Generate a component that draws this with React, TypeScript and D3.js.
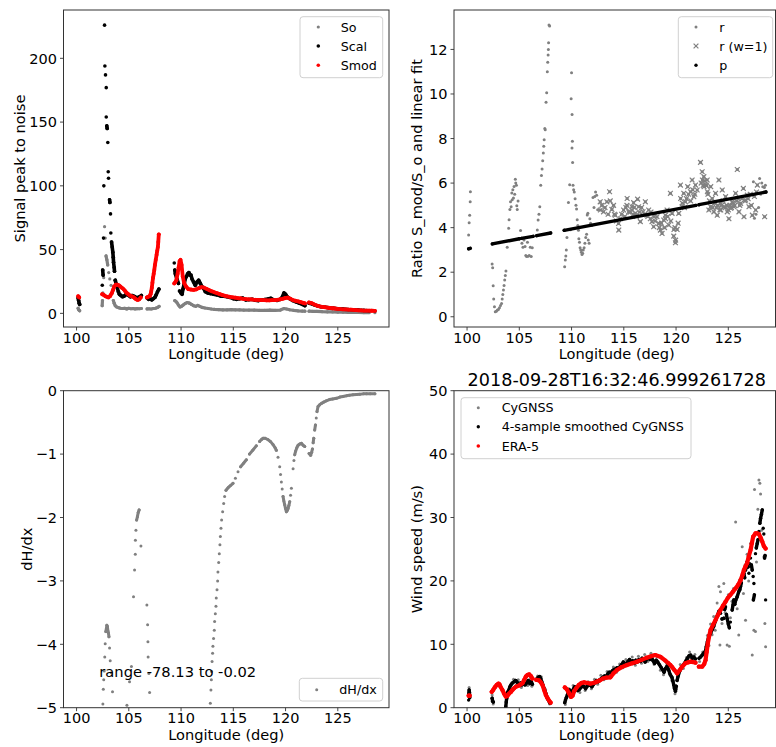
import React from 'react';
import * as d3 from 'd3';

type P = [number, number];

const lonTicks = [100, 105, 110, 115, 120, 125];
const snrTicks = [0, 50, 100, 150, 200];
const ratioTicks = [0, 2, 4, 6, 8, 10, 12];
const dhdxTicks = [0, -1, -2, -3, -4, -5];
const windTicks = [0, 10, 20, 30, 40, 50];
const titleText = '2018-09-28T16:32:46.999261728';
const rangeText = 'range -78.13 to -0.02';

// ---------- Panel 1: signal peak to noise ----------
const soSegs: P[][] = [
  [[100.15, 4], [100.2, 3], [100.25, 2.5], [100.3, 2]],
  [[102.45, 6], [102.48, 10], [102.52, 16], [102.6, 28], [102.68, 68], [102.75, 59], [102.82, 45], [102.9, 42], [102.98, 38], [103.08, 32], [103.18, 27], [103.3, 22], [103.42, 16], [103.52, 10], [103.6, 8], [103.7, 6], [103.85, 5], [104.0, 4.5], [104.2, 4], [104.4, 3.8], [104.6, 4], [104.8, 3.5], [105.0, 4], [105.2, 3.6], [105.4, 3.8], [105.6, 3.5], [105.8, 3.7], [106.0, 3.6], [106.2, 3.8]],
  [[106.75, 3.5], [106.95, 3.6], [107.15, 3.4], [107.35, 3.8], [107.55, 4], [107.75, 4.6], [107.9, 5.5]],
  [[109.4, 10], [109.5, 9.5], [109.6, 8.5], [109.75, 6.5], [109.9, 5], [110.05, 5.5], [110.2, 6.5], [110.4, 7.8], [110.6, 8.5], [110.8, 8], [111.0, 7], [111.2, 6], [111.4, 5.5], [111.6, 6.3], [111.8, 5.5], [112.0, 4.7], [112.3, 4.2], [112.6, 3.8], [112.9, 3.4], [113.2, 3.1], [113.6, 2.9], [114.0, 2.7], [114.4, 2.8], [114.8, 3.0], [115.2, 2.8], [115.6, 2.7], [116.0, 2.6], [116.5, 2.6], [117.0, 2.5], [117.5, 2.4], [118.0, 2.4], [118.5, 2.5], [119.0, 2.4], [119.5, 2.6], [119.85, 3.8], [120.1, 3.4], [120.4, 2.8], [120.8, 2.3], [121.2, 2], [121.6, 1.8], [121.85, 1.7]],
  [[122.25, 1.7], [122.6, 1.6], [123.0, 1.5], [123.5, 1.3], [124.0, 1.2], [124.5, 1.1], [125.0, 1.0], [125.5, 0.9], [126.0, 0.8], [126.5, 0.8], [127.0, 0.7], [127.5, 0.6], [128.0, 0.6], [128.55, 0.5]],
];

const scalSegs: P[][] = [
  [[100.15, 12], [100.2, 10], [100.25, 8], [100.3, 7]],
  [[102.46, 22], [102.5, 34], [102.54, 30], [102.58, 59], [102.61, 100], [102.68, 226], [102.71, 194], [102.77, 187], [102.84, 177], [102.84, 154], [102.89, 147], [102.93, 145], [102.99, 134], [103.03, 111], [103.06, 106], [103.16, 89], [103.19, 87], [103.25, 78], [103.28, 63], [103.35, 56], [103.41, 52], [103.47, 48], [103.51, 44], [103.54, 40], [103.6, 36], [103.63, 33], [103.7, 26], [103.8, 23], [103.9, 20], [104.0, 17], [104.1, 15], [104.25, 14], [104.4, 13], [104.55, 13.5], [104.7, 14.5], [104.85, 15], [105.0, 14], [105.15, 13], [105.3, 14], [105.45, 13.5], [105.6, 13], [105.75, 12], [105.9, 12.5], [106.05, 13], [106.2, 14]],
  [[106.75, 12], [106.9, 11], [107.05, 11.5], [107.2, 10.5], [107.35, 11.5], [107.5, 12.5], [107.62, 14.5], [107.75, 17], [107.88, 19]],
  [[109.35, 39.5], [109.4, 34], [109.45, 31], [109.6, 27], [109.75, 23.5], [109.86, 17.5], [109.99, 16], [110.1, 15], [110.18, 19], [110.3, 23], [110.4, 27], [110.52, 29], [110.63, 31], [110.75, 32], [110.85, 30], [110.95, 30], [111.05, 27], [111.2, 24.5], [111.36, 22], [111.52, 24.5], [111.68, 26], [111.84, 23.5], [112.0, 21], [112.16, 19.5], [112.32, 17], [112.55, 16], [112.8, 15.5], [113.1, 15], [113.44, 14.5], [113.8, 13.5], [114.1, 13.5], [114.4, 13], [114.7, 12.5], [115.0, 11.5], [115.3, 11], [115.6, 11.5], [115.9, 12], [116.2, 10.5], [116.5, 10.8], [116.8, 11], [117.1, 10.3], [117.4, 10], [117.7, 10.5], [118.0, 10.8], [118.3, 11.2], [118.6, 11.8], [118.9, 10.5], [119.2, 10.2], [119.5, 11], [119.7, 13], [119.85, 16], [120.0, 15], [120.15, 13], [120.4, 11.5], [120.7, 10], [121.0, 9], [121.3, 8], [121.6, 7], [121.85, 6]],
  [[122.25, 8], [122.5, 7.5], [122.8, 6.5], [123.1, 5.8], [123.4, 5.2], [123.8, 4.8], [124.2, 4.3], [124.6, 4], [125.0, 3.6], [125.5, 3.3], [126.0, 3], [126.5, 2.8], [127.0, 2.5], [127.5, 2.3], [128.0, 2.1], [128.55, 1.9]],
];

const smodSegs: P[][] = [
  [[100.15, 13.5], [100.2, 13], [100.25, 12.5]],
  [[102.45, 15], [102.6, 14.5], [102.75, 13.5], [102.9, 13], [103.05, 12.5], [103.2, 13.5], [103.35, 15.5], [103.5, 18.5], [103.6, 21], [103.75, 22.5], [103.9, 22.5], [104.05, 22], [104.2, 21], [104.35, 20], [104.5, 19], [104.65, 17.5], [104.8, 16], [104.95, 15], [105.1, 14], [105.25, 13.5], [105.4, 13], [105.55, 12], [105.7, 11], [105.85, 10.5], [106.0, 11], [106.15, 12.5]],
  [[106.73, 12.5], [106.85, 13], [107.0, 13.5], [107.08, 15], [107.14, 17], [107.2, 20], [107.26, 24], [107.32, 28], [107.38, 31], [107.44, 34], [107.5, 38], [107.58, 42], [107.66, 46], [107.72, 49], [107.78, 52], [107.82, 56], [107.87, 62]],
  [[109.35, 23.5], [109.45, 24.5], [109.55, 26], [109.67, 31], [109.77, 36], [109.86, 41], [109.95, 42], [110.05, 38], [110.16, 29], [110.29, 24], [110.48, 21], [110.7, 19], [110.95, 18.7], [111.2, 18.4], [111.45, 18.8], [111.7, 19.8], [111.95, 20.5], [112.2, 20.2], [112.45, 19.2], [112.7, 18.2], [112.95, 17.3], [113.2, 16.5], [113.45, 15.8], [113.7, 15.1], [113.95, 14.4], [114.2, 13.8], [114.45, 13.3], [114.7, 12.9], [114.95, 12.6], [115.2, 12.3], [115.45, 12.0], [115.7, 11.7], [115.95, 11.4], [116.2, 11.2], [116.45, 11.0], [116.7, 10.9], [116.95, 10.7], [117.2, 10.6], [117.45, 10.5], [117.7, 10.4], [117.95, 10.3], [118.2, 10.2], [118.45, 10.2], [118.7, 10.3], [118.95, 10.4], [119.2, 10.6], [119.45, 10.9], [119.7, 11.4], [119.95, 12.0], [120.2, 12.4], [120.45, 11.5], [120.7, 10.4], [120.95, 9.9], [121.2, 9.4], [121.45, 8.8], [121.7, 8.2], [121.85, 7.8]],
  [[122.25, 8.5], [122.5, 8.0], [122.75, 7.0], [123.0, 6.1], [123.25, 5.5], [123.5, 5.1], [123.75, 4.8], [124.0, 4.5], [124.25, 4.2], [124.5, 4.0], [124.75, 3.8], [125.0, 3.5], [125.25, 3.3], [125.5, 3.2], [125.75, 3.1], [126.0, 3.0], [126.25, 2.85], [126.5, 2.7], [126.75, 2.55], [127.0, 2.4], [127.25, 2.3], [127.5, 2.2], [127.75, 2.15], [128.0, 2.1], [128.25, 2.05], [128.55, 2.0]],
];

// ---------- Panel 2: ratio and linear fit ----------
const rOnly: P[] = [
  [100.15, 3.67], [100.2, 4.22], [100.25, 4.56], [100.3, 5.16], [100.32, 5.61],
  [102.4, 2.37], [102.45, 2.2], [102.5, 1.39], [102.55, 0.8], [102.62, 0.45], [102.7, 0.23], [102.8, 0.25], [102.9, 0.3], [103.0, 0.33], [103.1, 0.4], [103.2, 0.5], [103.3, 0.6], [103.36, 0.8], [103.42, 1.0], [103.48, 1.2], [103.54, 1.4], [103.6, 1.65], [103.66, 1.85], [103.72, 2.05],
  [103.84, 3.12], [103.98, 3.97], [104.02, 4.35], [104.1, 4.82], [104.16, 5.16], [104.22, 4.94], [104.28, 5.55], [104.32, 5.25], [104.38, 5.7], [104.44, 5.33], [104.5, 5.85], [104.56, 5.5], [104.62, 6.17], [104.66, 6.0], [104.72, 5.9], [104.76, 4.98], [104.8, 4.82], [104.88, 5.2],
  [105.12, 3.87], [105.25, 3.3], [105.35, 3.12], [105.45, 3.45], [105.55, 3.15], [105.62, 2.75], [105.7, 2.7], [105.78, 3.35], [105.85, 2.72], [105.95, 2.75], [106.05, 3.12], [106.14, 2.7], [106.24, 3.1],
  [106.72, 3.89], [106.8, 4.34], [106.88, 4.6], [106.96, 4.94], [107.05, 5.9], [107.12, 6.34], [107.18, 6.63], [107.24, 7.0], [107.3, 7.35], [107.34, 7.65], [107.38, 7.95], [107.44, 8.45], [107.48, 8.4], [107.56, 9.63], [107.62, 10.05], [107.68, 11.0], [107.72, 11.42], [107.76, 11.75], [107.78, 12.0], [107.8, 12.3], [107.84, 13.1], [107.9, 13.05],
  [109.34, 2.25], [109.4, 2.55], [109.45, 2.73], [109.5, 3.0], [109.56, 3.56], [109.7, 5.13], [109.82, 5.93], [109.9, 3.9], [109.96, 9.79], [110.0, 10.95], [110.05, 9.08], [110.04, 7.58], [110.08, 7.88], [110.1, 6.92], [110.14, 5.9], [110.2, 5.7], [110.26, 5.6], [110.34, 5.3], [110.42, 5.0], [110.48, 4.84], [110.54, 4.35], [110.6, 4.1], [110.66, 3.88], [110.7, 3.5], [110.76, 3.35], [110.82, 3.1], [110.88, 3.0], [110.94, 2.9], [111.0, 2.8], [111.06, 2.85], [111.12, 3.0], [111.2, 3.1], [111.28, 3.3], [111.36, 3.56], [111.44, 3.7], [111.5, 4.57], [111.56, 4.65], [111.6, 3.45], [111.68, 3.3], [111.75, 4.4], [111.82, 4.2], [111.95, 4.1], [112.05, 5.35], [112.15, 4.9], [112.22, 5.4], [112.3, 5.6], [112.4, 5.45], [112.5, 4.8],
  [127.4, 6.06], [127.5, 4.42], [127.65, 4.6], [127.9, 4.9], [128.0, 6.21], [128.1, 5.5], [128.2, 6.0], [128.3, 5.84], [128.45, 5.8], [128.55, 5.9],
];

const rW1: P[] = [
  [112.74, 5.16], [112.76, 4.79], [112.9, 5.0], [113.06, 4.71], [113.2, 4.9], [113.38, 5.16], [113.5, 4.6], [113.64, 5.61], [113.7, 5.2], [113.86, 4.82], [114.02, 5.0], [114.1, 4.6], [114.18, 4.56], [114.3, 4.3], [114.5, 4.19], [114.52, 3.89], [114.66, 4.4], [114.8, 4.6], [114.98, 4.79], [115.1, 4.5], [115.2, 4.9], [115.3, 5.0], [115.32, 5.31], [115.46, 4.71], [115.6, 4.7], [115.78, 4.94], [115.8, 4.79], [115.9, 4.6], [115.94, 5.12], [116.0, 4.9], [116.1, 4.64], [116.2, 4.5], [116.32, 5.28], [116.42, 4.94], [116.5, 4.7], [116.58, 4.27], [116.7, 4.9], [116.84, 4.71], [117.0, 4.6], [117.06, 5.16], [117.22, 4.56], [117.3, 4.5], [117.38, 4.79], [117.54, 4.4], [117.6, 4.7], [117.7, 4.27], [117.86, 4.04], [117.9, 4.5], [118.0, 4.3], [118.18, 4.49], [118.34, 4.19], [118.4, 4.0], [118.5, 3.89], [118.6, 4.2], [118.66, 3.74], [118.82, 4.34], [118.9, 4.0], [118.98, 4.56], [119.0, 4.4], [119.14, 4.79], [119.2, 4.5], [119.3, 4.12], [119.46, 5.54], [119.5, 4.3], [119.62, 4.64], [119.78, 3.62], [119.8, 3.92], [119.9, 4.0], [119.94, 3.32], [119.96, 3.44], [120.1, 3.92], [120.2, 4.2], [120.26, 4.64], [120.42, 5.91], [120.44, 5.31], [120.58, 4.94], [120.6, 5.1], [120.74, 5.54], [120.8, 4.9], [120.9, 5.16], [121.0, 5.3], [121.12, 5.84], [121.2, 5.5], [121.38, 5.61], [121.4, 5.2], [121.54, 6.14], [121.6, 5.7], [121.7, 5.39], [121.8, 5.5], [121.86, 5.91], [122.02, 5.69],
  [122.34, 6.93], [122.4, 6.0], [122.5, 6.51], [122.52, 6.14], [122.6, 5.9], [122.66, 6.29], [122.68, 5.84], [122.75, 6.1], [122.82, 5.91], [122.9, 5.9], [122.98, 6.14], [123.0, 5.61], [123.05, 5.5], [123.14, 4.79], [123.2, 5.2], [123.3, 4.94], [123.32, 5.84], [123.46, 5.31], [123.5, 4.9], [123.62, 4.71], [123.7, 5.1], [123.78, 5.54], [123.85, 4.9], [123.94, 4.56], [124.0, 5.0], [124.1, 6.14], [124.2, 4.8], [124.26, 5.09], [124.28, 4.79], [124.35, 5.0], [124.42, 5.69], [124.5, 5.2], [124.58, 4.94], [124.7, 4.9], [124.74, 5.39], [124.85, 5.0], [124.9, 4.71], [125.0, 4.8], [125.06, 4.4], [125.15, 5.0], [125.22, 4.87], [125.3, 4.9], [125.38, 5.16], [125.45, 5.1], [125.54, 4.94], [125.6, 5.0], [125.7, 5.54], [125.8, 5.2], [125.86, 6.61], [125.95, 5.3], [126.02, 4.71], [126.1, 5.0], [126.18, 5.09], [126.3, 5.3], [126.44, 5.76], [126.5, 4.49], [126.6, 5.2], [126.66, 5.24], [126.82, 5.46], [126.9, 5.3], [126.98, 4.94], [127.1, 5.5], [127.2, 5.0], [127.3, 4.56], [127.5, 5.4], [127.62, 4.79], [127.7, 5.6], [127.78, 5.91], [128.48, 4.49],
];

const pSegs: P[][] = [
  [[100.15, 3.05], [100.3, 3.07]],
  [[102.42, 3.27], [105.0, 3.5]],
  [[105.2, 3.52], [106.32, 3.61]],
  [[106.66, 3.64], [108.0, 3.76]],
  [[109.3, 3.88], [121.9, 5.0]],
  [[122.2, 5.03], [128.6, 5.6]],
];

// ---------- Panel 3: dH/dx ----------
const dhdxSegs: P[][] = [
  [[102.52, -4.94], [102.56, -4.71], [102.6, -4.56], [102.65, -4.42], [102.7, -4.2], [102.74, -3.99], [102.8, -3.8], [102.85, -3.76], [102.9, -3.7], [102.95, -3.72], [103.0, -3.79], [103.05, -3.82], [103.1, -3.88], [103.16, -4.06], [103.22, -4.26], [103.32, -4.45], [103.44, -4.75]],
  [[104.82, -4.96], [105.07, -4.59], [105.25, -4.35], [105.45, -3.25], [105.55, -2.83], [105.62, -2.58], [105.63, -2.36], [105.68, -2.2], [105.75, -2.04], [105.82, -1.99], [105.9, -1.92], [105.99, -1.88], [106.16, -2.45]],
  [[106.73, -3.38], [106.8, -3.69], [106.83, -3.96], [106.85, -4.2], [106.92, -4.46], [106.99, -4.76]],
  [[112.8, -4.93], [112.86, -4.72], [112.9, -4.56], [112.92, -4.43], [112.97, -4.27], [113.02, -4.14], [113.05, -4.03], [113.11, -3.91], [113.18, -3.78], [113.21, -3.64], [113.28, -3.52], [113.34, -3.4], [113.37, -3.27], [113.44, -3.14], [113.5, -3.0], [113.53, -2.86], [113.6, -2.71], [113.66, -2.57], [113.72, -2.43], [113.76, -2.3], [113.82, -2.17], [113.88, -2.04], [113.98, -1.91], [114.08, -1.78], [114.17, -1.67], [114.3, -1.57], [114.5, -1.53], [114.7, -1.5], [114.97, -1.46], [115.2, -1.38], [115.45, -1.28], [115.7, -1.2], [116.0, -1.14], [116.25, -1.09], [116.55, -1.0], [116.88, -0.935], [117.2, -0.87], [117.52, -0.8], [117.7, -0.77], [117.85, -0.75], [118.05, -0.75], [118.3, -0.77], [118.55, -0.8], [118.8, -0.85], [119.0, -0.9], [119.12, -0.94], [119.28, -1.05], [119.44, -1.2], [119.52, -1.32], [119.6, -1.44], [119.68, -1.55], [119.76, -1.67], [119.84, -1.74], [119.92, -1.8], [120.0, -1.86], [120.08, -1.91], [120.16, -1.89], [120.24, -1.86], [120.32, -1.81], [120.4, -1.75], [120.48, -1.65], [120.56, -1.54]],
  [[120.72, -1.23], [120.8, -1.1], [120.88, -1.01], [120.97, -0.95], [121.08, -0.9], [121.2, -0.86], [121.36, -0.84], [121.52, -0.83], [121.68, -0.86], [121.84, -0.88]],
  [[122.25, -0.99], [122.32, -1.0], [122.4, -1.02], [122.5, -0.97], [122.57, -0.92], [122.64, -0.82], [122.7, -0.75], [122.79, -0.62], [122.86, -0.54], [122.94, -0.43], [123.01, -0.33], [123.11, -0.25], [123.27, -0.22], [123.43, -0.2], [123.65, -0.18], [123.9, -0.16], [124.2, -0.14], [124.5, -0.13], [124.87, -0.12], [125.2, -0.1], [125.5, -0.09], [125.83, -0.08], [126.1, -0.07], [126.45, -0.065], [126.79, -0.06], [127.1, -0.055], [127.45, -0.05], [127.75, -0.05], [128.1, -0.05], [128.55, -0.05]],
];

// ---------- Panel 4: wind speed ----------
const cygnss: P[] = [
  [100.15, 2.5], [100.2, 3.2], [100.25, 1.5],
  [102.4, 2.0], [102.5, 0.6], [103.72, 0.3], [103.85, 1.5], [104.05, 3.0], [104.25, 3.9], [104.45, 4.5], [104.7, 3.6], [104.9, 4.4], [105.2, 3.2], [105.5, 4.4], [105.8, 3.5], [106.05, 4.5], [106.2, 3.4],
  [106.75, 5.0], [106.9, 4.4], [107.1, 4.9], [107.3, 3.3], [107.5, 2.9], [107.7, 1.4], [107.9, 0.6],
  [109.4, 0.5], [109.55, 1.6], [109.75, 3.0], [109.9, 1.9], [110.15, 3.5], [110.35, 2.6], [110.55, 3.4], [110.8, 2.4], [111.0, 3.8], [111.3, 2.7], [111.6, 4.1], [111.9, 3.0], [112.2, 4.5], [112.5, 3.7], [112.8, 5.1], [113.1, 4.4], [113.4, 5.7], [113.7, 5.0], [114.0, 6.4], [114.3, 5.6], [114.6, 6.9], [114.9, 6.3], [115.2, 7.6], [115.5, 6.8], [115.8, 8.0], [116.1, 6.7], [116.4, 8.1], [116.7, 7.0], [117.0, 8.4], [117.3, 7.3], [117.6, 8.6], [117.9, 6.8], [118.2, 8.0], [118.5, 5.9], [118.8, 5.2], [119.1, 7.0], [119.35, 5.4], [119.6, 4.3], [119.8, 3.1], [119.9, 2.2], [120.0, 2.9], [120.15, 4.8], [120.4, 6.8], [120.7, 6.2], [121.0, 7.9], [121.3, 8.8], [121.6, 7.4], [121.8, 8.4],
  [122.25, 7.3], [122.55, 8.8], [122.85, 9.6], [123.0, 11.4], [123.15, 9.8], [123.3, 13.2], [123.45, 11.5], [123.6, 14.4], [123.75, 12.2], [123.93, 16.5], [124.1, 19.1], [124.2, 9.9], [124.25, 18.3], [124.4, 13.3], [124.57, 19.6], [124.7, 15.0], [124.89, 9.89], [125.0, 17.8], [125.1, 9.7], [125.2, 14.2], [125.35, 16.8], [125.5, 18.8], [125.7, 29.3], [125.85, 15.6], [126.0, 11.45], [126.1, 20.2], [126.33, 25.4], [126.45, 18.0], [126.6, 22.5], [126.65, 13.8], [126.8, 24.2], [126.95, 20.0], [127.13, 25.9], [127.29, 8.3], [127.45, 12.2], [127.51, 34.4], [127.6, 12.0], [127.7, 23.0], [127.83, 31.3], [127.93, 35.9], [128.02, 35.4], [128.09, 33.7], [128.2, 28.0], [128.41, 23.8], [128.5, 13.3], [128.57, 9.6],
];

const smoothSegs: P[][] = [
  [[100.15, 1.2], [100.18, 2.2], [100.2, 2.8], [100.23, 2.4], [100.25, 1.6]],
  [[102.4, 1.5], [102.45, 1.0], [102.52, 0.9]],
  [[103.7, 0.1], [103.75, 0.9], [103.8, 1.7], [103.9, 2.5], [104.0, 2.8], [104.1, 3.3], [104.2, 3.6], [104.35, 3.9], [104.5, 4.1], [104.65, 4.3], [104.8, 4.0], [104.95, 3.7], [105.1, 3.9], [105.25, 3.6], [105.4, 4.0], [105.55, 3.6], [105.7, 3.9], [105.85, 4.3], [106.0, 3.8], [106.15, 4.1], [106.25, 3.7]],
  [[106.7, 4.6], [106.82, 4.8], [106.95, 4.9], [107.05, 4.6], [107.15, 4.1], [107.25, 3.6], [107.35, 3.1], [107.45, 2.6], [107.55, 2.2], [107.65, 1.7], [107.75, 1.3], [107.85, 1.0], [107.95, 0.7]],
  [[109.35, 0.8], [109.42, 1.2], [109.5, 1.6], [109.6, 2.0], [109.7, 2.5], [109.8, 2.8], [109.9, 2.5], [110.0, 2.2], [110.1, 2.7], [110.2, 3.0], [110.3, 3.3], [110.45, 3.0], [110.6, 2.7], [110.75, 2.9], [110.9, 3.2], [111.05, 3.5], [111.2, 3.3], [111.35, 3.0], [111.5, 3.4], [111.65, 3.7], [111.8, 3.5], [111.95, 3.3], [112.1, 3.7], [112.25, 4.0], [112.4, 4.3], [112.55, 4.1], [112.7, 4.4], [112.85, 4.6], [113.0, 4.8], [113.15, 5.0], [113.3, 4.9], [113.45, 5.3], [113.6, 5.6], [113.75, 5.5], [113.9, 5.8], [114.05, 6.0], [114.2, 6.1], [114.35, 6.3], [114.5, 6.2], [114.65, 6.5], [114.8, 6.8], [114.95, 7.2], [115.1, 7.0], [115.25, 6.7], [115.4, 7.3], [115.55, 7.6], [115.7, 7.1], [115.85, 7.4], [116.0, 7.0], [116.15, 7.5], [116.3, 7.2], [116.45, 7.6], [116.6, 7.3], [116.75, 7.8], [116.9, 7.5], [117.05, 7.2], [117.2, 7.7], [117.35, 7.9], [117.5, 7.6], [117.65, 8.0], [117.8, 7.4], [117.95, 7.0], [118.1, 7.5], [118.25, 7.2], [118.4, 6.8], [118.55, 6.4], [118.7, 6.0], [118.85, 5.6], [119.0, 6.2], [119.15, 6.6], [119.3, 5.9], [119.45, 5.2], [119.6, 4.8], [119.7, 4.2], [119.78, 3.6], [119.86, 3.0], [119.94, 2.6], [120.02, 3.4], [120.1, 4.3], [120.2, 5.0], [120.35, 5.8], [120.5, 6.3], [120.65, 6.6], [120.8, 7.0], [120.95, 7.4], [121.1, 7.8], [121.25, 8.2], [121.4, 8.3], [121.55, 7.8], [121.7, 8.0], [121.85, 7.7]],
  [[122.2, 7.8], [122.35, 8.0], [122.5, 8.3], [122.65, 8.6], [122.8, 8.9], [122.9, 9.6], [123.0, 10.4], [123.1, 11.0], [123.2, 11.5], [123.3, 11.7], [123.45, 12.3], [123.6, 12.8], [123.75, 13.6], [123.93, 14.4], [124.1, 15.2], [124.25, 14.9], [124.4, 14.0], [124.57, 14.1], [124.65, 15.5], [124.73, 15.9], [124.82, 14.7], [124.9, 14.0], [125.0, 13.2], [125.1, 12.6], [125.2, 13.5], [125.37, 15.4], [125.45, 16.2], [125.53, 17.0], [125.62, 16.3], [125.7, 16.9], [125.85, 17.5], [126.0, 18.3], [126.1, 18.6], [126.17, 19.1], [126.25, 19.7], [126.33, 20.7], [126.41, 21.0], [126.49, 21.2], [126.57, 20.5], [126.65, 21.7], [126.73, 22.3], [126.8, 23.0], [126.9, 22.2], [126.97, 21.2], [127.05, 22.7], [127.13, 23.6], [127.21, 22.5], [127.29, 21.7], [127.38, 20.7], [127.45, 19.6], [127.4, 17.0], [127.5, 17.8], [127.6, 24.3], [127.68, 25.2], [127.77, 25.9], [127.85, 26.5], [127.93, 27.8], [128.02, 29.1], [128.09, 29.9], [128.17, 30.5], [128.25, 31.2], [128.34, 28.3], [128.4, 27.4], [128.47, 23.6], [128.52, 24.0], [128.57, 17.0]],
];

const era5Segs: P[][] = [
  [[100.15, 1.9], [100.2, 1.85], [100.25, 1.9]],
  [[102.36, 2.5], [102.5, 2.8], [102.65, 3.2], [102.84, 3.6], [103.0, 3.8], [103.1, 3.7], [103.2, 3.3], [103.38, 2.8], [103.55, 2.2], [103.7, 1.75], [103.85, 1.85], [104.0, 2.2], [104.2, 2.5], [104.34, 2.8], [104.5, 3.06], [104.66, 3.3], [104.98, 3.5], [105.14, 3.7], [105.3, 3.86], [105.46, 4.36], [105.62, 4.9], [105.78, 5.15], [105.94, 5.26], [106.1, 5.0], [106.26, 4.6]],
  [[106.62, 4.4], [106.74, 4.36], [106.9, 4.3], [107.06, 4.0], [107.22, 3.57], [107.38, 2.8], [107.54, 2.0], [107.7, 1.5], [107.86, 1.1], [108.0, 0.8]],
  [[109.35, 3.2], [109.55, 2.9], [109.75, 2.3], [109.95, 1.7], [110.1, 1.9], [110.25, 2.6], [110.45, 3.1], [110.7, 3.6], [110.95, 3.9], [111.2, 4.0], [111.5, 3.9], [111.8, 3.8], [112.1, 3.9], [112.4, 4.1], [112.7, 4.3], [113.0, 4.6], [113.35, 4.75], [113.71, 4.79], [114.0, 5.4], [114.35, 5.95], [114.8, 6.4], [115.3, 6.73], [115.8, 7.0], [116.27, 7.26], [116.7, 7.55], [117.2, 7.89], [117.6, 8.1], [118.0, 8.3], [118.5, 8.04], [118.98, 7.42], [119.25, 7.05], [119.46, 6.73], [119.65, 6.35], [119.84, 5.95], [120.1, 5.42], [120.36, 5.95], [120.6, 6.5], [120.9, 7.0], [121.15, 7.15], [121.38, 7.26], [121.6, 7.2], [121.86, 7.1]],
  [[122.18, 6.47], [122.5, 6.47], [122.7, 6.9], [122.82, 7.5], [122.93, 8.8], [123.04, 10.14], [123.17, 11.3], [123.3, 12.24], [123.55, 13.1], [123.77, 13.8], [124.0, 14.6], [124.25, 15.4], [124.5, 16.1], [124.73, 16.7], [124.95, 17.3], [125.2, 17.8], [125.45, 18.3], [125.69, 18.8], [125.95, 19.4], [126.17, 20.1], [126.35, 20.9], [126.49, 21.7], [126.65, 22.3], [126.8, 22.8], [126.95, 23.8], [127.13, 24.87], [127.25, 25.9], [127.38, 26.97], [127.6, 27.5], [127.77, 27.5], [127.93, 27.4], [128.1, 26.8], [128.25, 26.2], [128.4, 25.5], [128.57, 25.1]],
];

// ---------- rendering ----------
const FONT = '"DejaVu Sans", sans-serif';
const GRAY = '#808080';
const RED = '#ff0000';
const BLACK = '#000000';
const AXIS = '#333333';

type Scale = d3.ScaleLinear<number, number>;
type LinkMode = 'always' | 'near' | 'none';

function xPath(cx: number, cy: number, s: number) {
  return `M${cx - s},${cy - s}L${cx + s},${cy + s}M${cx - s},${cy + s}L${cx + s},${cy - s}`;
}

function Series(props: { segs: P[][]; x: Scale; y: Scale; color: string; r: number; link: LinkMode; marker?: 'dot' | 'x' }) {
  const { segs, x, y, color, r, link, marker = 'dot' } = props;
  const line = d3.line<P>().x((d) => x(d[0])).y((d) => y(d[1]));
  const runs: P[][] = [];
  if (link !== 'none') {
    segs.forEach((seg) => {
      let cur: P[] = [];
      seg.forEach((d) => {
        if (cur.length) {
          const prev = cur[cur.length - 1];
          const dist = Math.hypot(x(d[0]) - x(prev[0]), y(d[1]) - y(prev[1]));
          if (link === 'near' && dist > 5.5) {
            runs.push(cur);
            cur = [];
          }
        }
        cur.push(d);
      });
      if (cur.length) runs.push(cur);
    });
  }
  const pts = segs.flat();
  return (
    <g>
      {runs.filter((s) => s.length > 1).map((s, i) => (
        <path key={'l' + i} d={line(s) || ''} fill="none" stroke={color} strokeWidth={2 * r} strokeLinecap="round" strokeLinejoin="round" />
      ))}
      {pts.map((d, i) =>
        marker === 'x' ? (
          <path key={i} d={xPath(x(d[0]), y(d[1]), 2.4)} stroke={color} strokeWidth={1.2} fill="none" />
        ) : (
          <circle key={i} cx={x(d[0])} cy={y(d[1])} r={r} fill={color} />
        )
      )}
    </g>
  );
}

function fmt(t: number) {
  return t < 0 ? '\u2212' + Math.abs(t) : String(t);
}

function Frame(props: {
  id: string; x: Scale; y: Scale; left: number; right: number; top: number; bottom: number;
  yTicks: number[]; xLabel: string; yLabel: string; yLabelX: number; children?: React.ReactNode;
}) {
  const { id, x, y, left, right, top, bottom, yTicks, xLabel, yLabel, yLabelX, children } = props;
  const cy = (top + bottom) / 2;
  return (
    <g>
      <defs>
        <clipPath id={id}>
          <rect x={left} y={top} width={right - left} height={bottom - top} />
        </clipPath>
      </defs>
      <g clipPath={`url(#${id})`}>{children}</g>
      <rect x={left} y={top} width={right - left} height={bottom - top} fill="none" stroke={AXIS} strokeWidth={1} />
      {lonTicks.map((t) => (
        <g key={'x' + t}>
          <line x1={x(t)} x2={x(t)} y1={bottom} y2={bottom + 3.5} stroke={AXIS} strokeWidth={0.9} />
          <text x={x(t)} y={bottom + 15.5} textAnchor="middle" fontSize={14.5} fill="#000">{t}</text>
        </g>
      ))}
      {yTicks.map((t) => (
        <g key={'y' + t}>
          <line x1={left - 3.5} x2={left} y1={y(t)} y2={y(t)} stroke={AXIS} strokeWidth={0.9} />
          <text x={left - 6.5} y={y(t)} dy="0.36em" textAnchor="end" fontSize={14.5} fill="#000">{fmt(t)}</text>
        </g>
      ))}
      <text x={(left + x.range()[1]) / 2} y={bottom + 32} textAnchor="middle" fontSize={14.6} fill="#000">{xLabel}</text>
      <text transform={`translate(${yLabelX},${cy}) rotate(-90)`} textAnchor="middle" fontSize={14.6} fill="#000">{yLabel}</text>
    </g>
  );
}

function Legend(props: { x: number; y: number; w: number; items: { label: string; color: string; marker: 'dot' | 'x'; r: number }[]; mx: number; tx: number; rowY: number[] }) {
  const { x, y, w, items, mx, tx, rowY } = props;
  const h = rowY.length === 1 ? 22.7 : 61;
  return (
    <g>
      <rect x={x} y={y} width={w} height={h} rx={3} fill="#ffffff" fillOpacity={0.85} stroke="#d0d0d0" strokeWidth={1} />
      {items.map((it, i) => (
        <g key={it.label}>
          {it.marker === 'x' ? (
            <path d={xPath(mx, rowY[i], 2.4)} stroke={it.color} strokeWidth={1.2} />
          ) : (
            <circle cx={mx} cy={rowY[i]} r={it.r} fill={it.color} />
          )}
          <text x={tx} y={rowY[i]} dy="0.36em" fontSize={12.7} fill="#000">{it.label}</text>
        </g>
      ))}
    </g>
  );
}

export default function App() {
  const lonDomain: [number, number] = [98.75, 129.9];
  const xL = d3.scaleLinear().domain(lonDomain).range([63.5, 389]);
  const xR = d3.scaleLinear().domain(lonDomain).range([454, 779.5]);
  const y1 = d3.scaleLinear().domain([-10.7, 237.9]).range([327, 10]);
  const y2 = d3.scaleLinear().domain([-0.46, 13.77]).range([327, 10]);
  const y3 = d3.scaleLinear().domain([-5, 0]).range([707.7, 390.7]);
  const y4 = d3.scaleLinear().domain([0, 50]).range([707.7, 390.7]);

  return (
    <svg width={776} height={747} style={{ position: 'absolute', left: 0, top: 0, background: '#fff' }} fontFamily={FONT}>
      <rect x={0} y={0} width={776} height={747} fill="#fff" />

      {/* Panel 1 */}
      <Frame id="c1" x={xL} y={y1} left={63.5} right={389} top={10} bottom={327} yTicks={snrTicks} xLabel="Longitude (deg)" yLabel="Signal peak to noise" yLabelX={24.5}>
        <Series segs={soSegs} x={xL} y={y1} color={GRAY} r={1.6} link="near" />
        <Series segs={scalSegs} x={xL} y={y1} color={BLACK} r={1.8} link="near" />
        <Series segs={smodSegs} x={xL} y={y1} color={RED} r={1.9} link="always" />
      </Frame>
      <Legend x={300} y={16.7} w={82.7} mx={318.3} tx={340.7} rowY={[27, 46, 65.3]}
        items={[
          { label: 'So', color: GRAY, marker: 'dot', r: 1.6 },
          { label: 'Scal', color: BLACK, marker: 'dot', r: 1.8 },
          { label: 'Smod', color: RED, marker: 'dot', r: 1.8 },
        ]} />

      {/* Panel 2 */}
      <Frame id="c2" x={xR} y={y2} left={454} right={775.5} top={10} bottom={327} yTicks={ratioTicks} xLabel="Longitude (deg)" yLabel="Ratio S_mod/S_o and linear fit" yLabelX={422.3}>
        <Series segs={[rOnly, rW1]} x={xR} y={y2} color={GRAY} r={1.5} link="none" />
        <Series segs={[rW1]} x={xR} y={y2} color={GRAY} r={1.5} link="none" marker="x" />
        <Series segs={pSegs} x={xR} y={y2} color={BLACK} r={1.7} link="always" />
      </Frame>
      <Legend x={678.3} y={16.7} w={94.4} mx={696} tx={719.3} rowY={[27, 46, 65.3]}
        items={[
          { label: 'r', color: GRAY, marker: 'dot', r: 1.5 },
          { label: 'r (w=1)', color: GRAY, marker: 'x', r: 1.5 },
          { label: 'p', color: BLACK, marker: 'dot', r: 1.7 },
        ]} />

      {/* Panel 3 */}
      <Frame id="c3" x={xL} y={y3} left={63.5} right={389} top={390.7} bottom={707.7} yTicks={dhdxTicks} xLabel="Longitude (deg)" yLabel="dH/dx" yLabelX={32.3}>
        <Series segs={dhdxSegs} x={xL} y={y3} color={GRAY} r={1.5} link="near" />
      </Frame>
      <text x={99.3} y={676.5} fontSize={14.7} fill="#000">{rangeText}</text>
      <Legend x={299.3} y={678.3} w={83.4} mx={316.7} tx={339.3} rowY={[689.7]}
        items={[{ label: 'dH/dx', color: GRAY, marker: 'dot', r: 1.5 }]} />

      {/* Panel 4 */}
      <Frame id="c4" x={xR} y={y4} left={454} right={775.5} top={390.7} bottom={707.7} yTicks={windTicks} xLabel="Longitude (deg)" yLabel="Wind speed (m/s)" yLabelX={422.3}>
        <Series segs={[cygnss]} x={xR} y={y4} color={GRAY} r={1.5} link="none" />
        <Series segs={smoothSegs} x={xR} y={y4} color={BLACK} r={1.7} link="near" />
        <Series segs={era5Segs} x={xR} y={y4} color={RED} r={2.1} link="always" />
      </Frame>
      <text x={616.8} y={386} textAnchor="middle" fontSize={17.6} fill="#000">{titleText}</text>
      <Legend x={461} y={397.7} w={230} mx={478.3} tx={501.7} rowY={[407.7, 426.7, 446]}
        items={[
          { label: 'CyGNSS', color: GRAY, marker: 'dot', r: 1.5 },
          { label: '4-sample smoothed CyGNSS', color: BLACK, marker: 'dot', r: 1.7 },
          { label: 'ERA-5', color: RED, marker: 'dot', r: 1.8 },
        ]} />
    </svg>
  );
}
